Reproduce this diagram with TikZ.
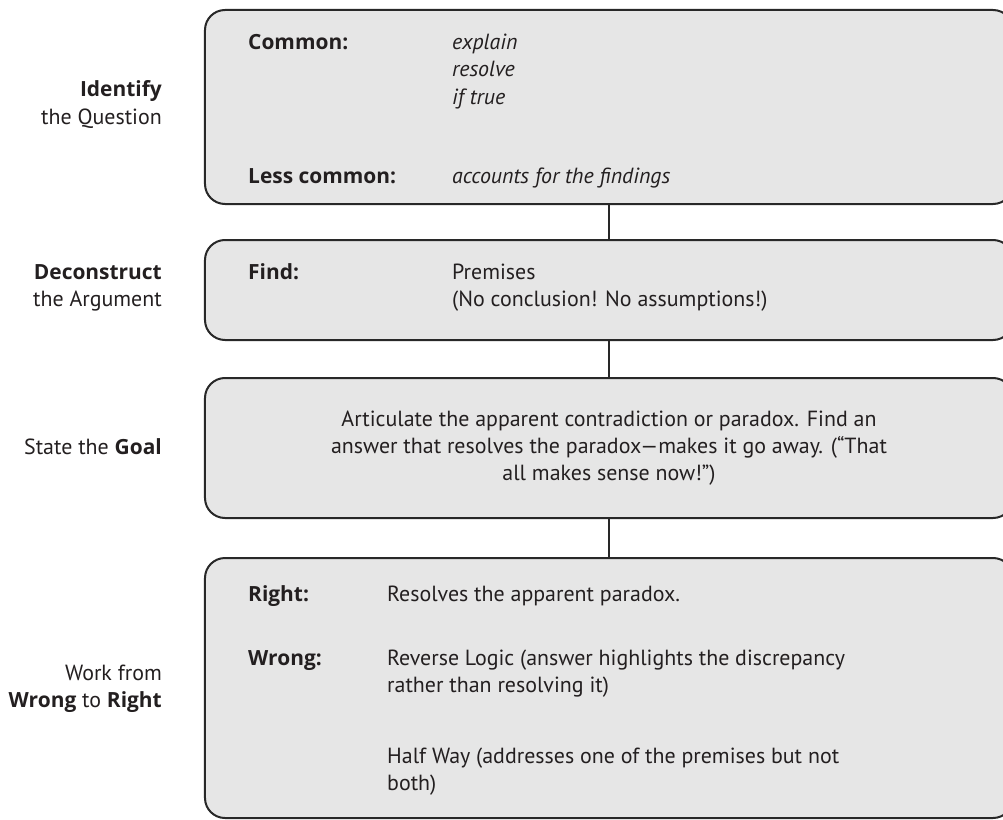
\documentclass[tikz,border=0pt]{standalone}
\usepackage{fontspec}
\setmainfont{PT Sans}
\newfontfamily\headfont{Open Sans}
\usetikzlibrary{positioning}
\definecolor{boxfill}{RGB}{230,230,230}
\definecolor{boxline}{RGB}{40,40,40}
\definecolor{textcol}{RGB}{35,31,32}
\newcommand{\txtsize}{\fontsize{22}{27}\selectfont}
\newcommand{\hb}[1]{{\headfont\fontsize{21}{27}\selectfont\bfseries #1}}
\tikzset{
    stepbox/.style={
        rectangle,
        rounded corners=20bp,
        draw=boxline,
        line width=2bp,
        fill=boxfill,
        minimum width=808bp
    },
    link/.style={
        draw=boxline,
        line width=2bp
    },
    head/.style={anchor=base west, inner sep=0pt, font=\headfont\fontsize{21}{27}\selectfont\bfseries},
    item/.style={anchor=base west, inner sep=0pt, font=\txtsize},
    side/.style={anchor=base east, inner sep=0pt, font=\txtsize}
}

\begin{document}
\begin{tikzpicture}[x=1bp, y=-1bp, text=textcol]
\useasboundingbox (0,0) rectangle (1003,820);

% boxes
\node[stepbox, minimum height=194bp] (identify) at (609,107) {};
\node[stepbox, minimum height=100bp] (deconstruct) at (609,290) {};
\node[stepbox, minimum height=140bp] (goal) at (609,448) {};
\node[stepbox, minimum height=260bp] (work) at (609,688) {};

\draw[link] (identify.south) -- (deconstruct.north);
\draw[link] (deconstruct.south) -- (goal.north);
\draw[link] (goal.south) -- (work.north);

% Identify the Question
\node[side] (identify-a) at (162,97) {\hb{Identify}};
\node[side] (identify-b) at (162,124) {the Question};
\node[head] (common) at (248,50) {Common:};
\node[item] (explain) at (452,50) {\itshape explain};
\node[item] (resolve) at (452,77) {\itshape resolve};
\node[item] (iftrue) at (452,104) {\itshape if true};
\node[head] (lesscommon) at (248,183) {Less common:};
\node[item] (findings) at (452,183) {\itshape accounts for the findings};

% Deconstruct the Argument
\node[side] (deconstruct-a) at (162,279) {\hb{Deconstruct}};
\node[side] (deconstruct-b) at (162,306) {the Argument};
\node[head] (find) at (248,279) {Find:};
\node[item] (premises) at (452,279) {Premises};
\node[item] (noconcl) at (452,306) {(No conclusion! No assumptions!)};

% State the Goal
\node[side] (goal-a) at (162,454) {State the \hb{Goal}};
\node[align=center, inner sep=0pt, font=\txtsize] (goaltext) at (goal.center) {Articulate the apparent contradiction or paradox. Find an\\
answer that resolves the paradox---makes it go away. (``That\\
all makes sense now!'')};

% Work from Wrong to Right
\node[side] (work-a) at (162,680) {Work from};
\node[side] (work-b) at (162,707) {\hb{Wrong} to \hb{Right}};
\node[head] (right) at (248,601) {Right:};
\node[item] (right-a) at (387,601) {Resolves the apparent paradox.};
\node[head] (wrong) at (248,665) {Wrong:};
\node[item] (wrong-a) at (387,665) {Reverse Logic (answer highlights the discrepancy};
\node[item] (wrong-b) at (387,692) {rather than resolving it)};
\node[item] (wrong-c) at (387,763) {Half Way (addresses one of the premises but not};
\node[item] (wrong-d) at (387,790) {both)};
\end{tikzpicture}
\end{document}
